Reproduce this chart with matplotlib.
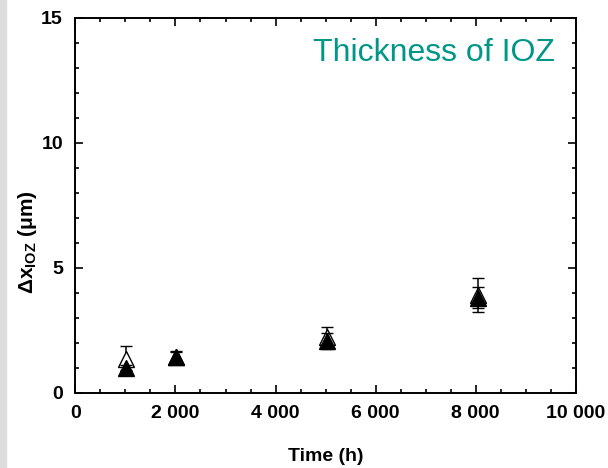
import matplotlib as mpl
mpl.use('Agg')
import matplotlib.pyplot as plt
from matplotlib.patches import Rectangle
from matplotlib.ticker import MultipleLocator, FuncFormatter

plt.rcParams['font.family'] = ['Liberation Sans', 'DejaVu Sans']
plt.rcParams['font.weight'] = 'bold'
plt.rcParams['mathtext.fontset'] = 'custom'
plt.rcParams['mathtext.rm'] = 'Liberation Sans:bold'
plt.rcParams['mathtext.default'] = 'rm'

# open triangles
time_open = [1010, 2020, 5025, 8050]
iox_open = [1.36, 1.42, 2.22, 3.90]
err_open = [0.49, 0.22, 0.39, 0.68]

# filled triangles
time_fill = [1010, 2020, 5025, 8050]
iox_fill = [0.99, 1.42, 2.08, 3.80]
err_fill = [0.10, 0.26, 0.32, 0.41]

fig = plt.figure(figsize=(6.08, 4.68), dpi=100)
fig.patches.append(Rectangle((0, 0), 6 / 608, 1, transform=fig.transFigure,
                             color='#dcdcdc', zorder=0))
ax = fig.add_axes([0.124, 0.161, 0.823, 0.8016])

ax.errorbar(time_open, iox_open, yerr=err_open, fmt='^', ms=11, mfc='white',
            mec='black', mew=1.0, ecolor='black', elinewidth=1.1, capsize=4.5,
            capthick=1.3, zorder=3)
ax.errorbar(time_fill, iox_fill, yerr=err_fill, fmt='^', ms=11, mfc='black',
            mec='black', mew=1.0, ecolor='black', elinewidth=1.1, capsize=4.5,
            capthick=1.3, zorder=4)

ax.set_xlim(0, 10000)
ax.set_ylim(0, 15)
ax.xaxis.set_major_locator(MultipleLocator(2000))
ax.xaxis.set_minor_locator(MultipleLocator(500))
ax.yaxis.set_major_locator(MultipleLocator(5))
ax.yaxis.set_minor_locator(MultipleLocator(1))
ax.xaxis.set_major_formatter(FuncFormatter(lambda v, p: f"{int(v):,}".replace(",", " ")))
ax.tick_params(which='both', direction='in', top=True, right=True, width=1.2,
               labelsize=14)
ax.tick_params(which='major', length=6, pad=9)
ax.tick_params(which='minor', length=3)
for s in ax.spines.values():
    s.set_linewidth(1.4)

ax.set_xlabel('Time (h)', fontsize=14, fontweight='bold')
ax.xaxis.set_label_coords(0.5, -0.147)
ax.set_ylabel(r'$\Delta$x$_{IOZ}$ (μm)', fontsize=15, fontweight='bold')
ax.yaxis.set_label_coords(-0.072, 0.40)

ax.text(0.958, 0.905, 'Thickness of IOZ', transform=ax.transAxes, ha='right',
        va='center', fontsize=23, fontweight='normal', color='#009688')

fig.savefig('out.png', dpi=100)
